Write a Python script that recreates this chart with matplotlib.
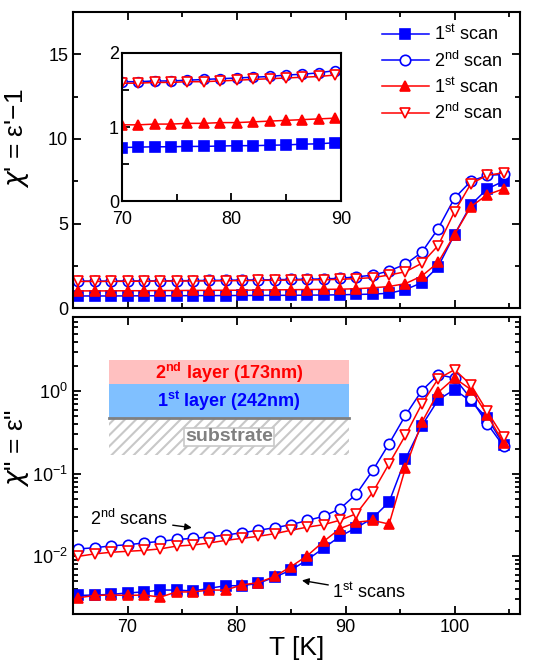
import matplotlib
matplotlib.use("Agg")
import matplotlib.pyplot as plt
from matplotlib.patches import Rectangle
from matplotlib.ticker import MultipleLocator, LogLocator, NullFormatter
import numpy as np

plt.rcParams["font.family"] = ["Liberation Sans", "DejaVu Sans"]
plt.rcParams["mathtext.fontset"] = "custom"
plt.rcParams["mathtext.rm"] = "Liberation Sans"
plt.rcParams["mathtext.it"] = "DejaVu Sans:italic"
plt.rcParams["mathtext.bf"] = "Liberation Sans:bold"
plt.rcParams["hatch.linewidth"] = 1.5
plt.rcParams["hatch.color"] = "#c8c8c8"

# temperatures [K], 1.5 K steps
T = np.array([65.5, 67, 68.5, 70, 71.5, 73, 74.5, 76, 77.5, 79, 80.5, 82, 83.5,
              85, 86.5, 88, 89.5, 91, 92.5, 94, 95.5, 97, 98.5, 100, 101.5,
              103, 104.5])

# real part chi' = eps' - 1
re_blue_1st = [0.72, 0.72, 0.72, 0.725, 0.73, 0.735, 0.735, 0.74, 0.74, 0.745,
               0.75, 0.75, 0.755, 0.76, 0.77, 0.775, 0.79, 0.81, 0.83, 0.88,
               1.1, 1.5, 2.45, 4.35, 6.1, 7.05, 7.5]
re_blue_2nd = [1.6, 1.6, 1.6, 1.61, 1.61, 1.62, 1.62, 1.63, 1.64, 1.65, 1.66,
               1.67, 1.68, 1.7, 1.71, 1.73, 1.76, 1.85, 1.95, 2.2, 2.6, 3.3,
               4.7, 6.5, 7.5, 7.85, 7.9]
re_red_1st = [1.02, 1.02, 1.02, 1.03, 1.03, 1.04, 1.04, 1.05, 1.05, 1.06,
              1.06, 1.07, 1.08, 1.09, 1.10, 1.11, 1.12, 1.15, 1.2, 1.28, 1.45,
              1.9, 2.7, 4.35, 6.0, 6.7, 7.05]
re_red_2nd = [1.58, 1.58, 1.58, 1.59, 1.59, 1.6, 1.6, 1.61, 1.61, 1.62, 1.63,
              1.64, 1.65, 1.66, 1.67, 1.68, 1.7, 1.75, 1.8, 1.96, 2.15, 2.65,
              3.7, 5.7, 7.35, 7.85, 8.0]

# imaginary part chi'' = eps''
im_blue_1st = [0.00335, 0.0034, 0.00345, 0.0036, 0.0037, 0.0039, 0.0039,
               0.0038, 0.0041, 0.0044, 0.0044, 0.0047, 0.0056, 0.0068, 0.0091,
               0.0126, 0.0175, 0.0222, 0.0291, 0.0456, 0.151, 0.383, 0.79,
               1.05, 0.757, 0.475, 0.226]
im_blue_2nd = [0.0123, 0.0127, 0.0134, 0.0138, 0.0145, 0.0152, 0.016, 0.0165,
               0.0172, 0.0181, 0.0193, 0.0207, 0.0222, 0.0242, 0.0272, 0.0306,
               0.0378, 0.057, 0.11, 0.232, 0.512, 1.02, 1.59, 1.45, 0.815,
               0.406, 0.216]
im_red_1st = [0.00315, 0.00335, 0.0034, 0.00335, 0.0034, 0.0032, 0.0037,
              0.0037, 0.0039, 0.0039, 0.0045, 0.0048, 0.0057, 0.0075, 0.0102,
              0.0152, 0.0217, 0.0259, 0.0272, 0.0246, 0.118, 0.42, 0.97, 1.45,
              1.05, 0.52, 0.236]
im_red_2nd = [0.01, 0.0107, 0.0112, 0.0115, 0.0118, 0.0123, 0.0133, 0.0137,
              0.0145, 0.0156, 0.0165, 0.0175, 0.0188, 0.0207, 0.0226, 0.0242,
              0.0274, 0.0329, 0.0597, 0.133, 0.293, 0.702, 1.42, 1.83, 1.2,
              0.572, 0.277]

BLUE = "#0000ff"
RED = "#ff0000"
styles = [
    dict(color=BLUE, marker="s", mfc=BLUE, mec=BLUE),
    dict(color=BLUE, marker="o", mfc="white", mec=BLUE),
    dict(color=RED, marker="^", mfc=RED, mec=RED),
    dict(color=RED, marker="v", mfc="white", mec=RED),
]
labels = [r"1$^{\mathrm{st}}$ scan", r"2$^{\mathrm{nd}}$ scan",
          r"1$^{\mathrm{st}}$ scan", r"2$^{\mathrm{nd}}$ scan"]


def style_axis(ax):
    for s in ax.spines.values():
        s.set_linewidth(1.5)
    ax.tick_params(which="both", direction="in", top=True, right=True,
                   width=1.3, labelsize=13)
    ax.tick_params(which="major", length=6)
    ax.tick_params(which="minor", length=3.5)


fig = plt.figure(figsize=(5.41, 6.67), dpi=100)
ax1 = fig.add_axes([0.135, 0.538, 0.826, 0.444])
ax2 = fig.add_axes([0.135, 0.0795, 0.826, 0.4455], sharex=ax1)

# upper panel
for y, st, lb in zip([re_blue_1st, re_blue_2nd, re_red_1st, re_red_2nd],
                     styles, labels):
    ax1.plot(T, y, lw=1.1, ms=7.5, mew=1.2, label=lb, **st)
ax1.set_xlim(65, 106)
ax1.set_ylim(0, 17.5)
ax1.yaxis.set_major_locator(MultipleLocator(5))
ax1.yaxis.set_minor_locator(MultipleLocator(2.5))
ax1.xaxis.set_major_locator(MultipleLocator(10))
ax1.xaxis.set_minor_locator(MultipleLocator(5))
style_axis(ax1)
ax1.tick_params(labelbottom=False)
ax1.set_ylabel(r"$\chi$' = ε'−1", fontsize=19)
ax1.yaxis.set_label_coords(-0.095, 0.575)
ax1.legend(loc="upper right", frameon=False, fontsize=13, handlelength=2.6,
           handletextpad=0.3, labelspacing=0.35, borderaxespad=0.3,
           bbox_to_anchor=(0.99, 1.0))

# inset 70-90 K
axi = fig.add_axes([0.225, 0.698, 0.405, 0.223])
m = T <= 90
for y, st in zip([re_blue_1st, re_blue_2nd, re_red_1st, re_red_2nd], styles):
    axi.plot(T[m], np.array(y)[m], lw=1.1, ms=7, mew=1.2, **st)
axi.set_xlim(70, 90)
axi.set_ylim(0, 2)
axi.xaxis.set_major_locator(MultipleLocator(10))
axi.xaxis.set_minor_locator(MultipleLocator(5))
axi.yaxis.set_major_locator(MultipleLocator(1))
axi.yaxis.set_minor_locator(MultipleLocator(0.5))
style_axis(axi)
axi.tick_params(top=False, right=False, which="both")
axi.tick_params(axis="y", pad=2)
axi.tick_params(axis="x", pad=7)
axi.tick_params(which="minor", length=5)

# lower panel
for y, st in zip([im_blue_1st, im_blue_2nd, im_red_1st, im_red_2nd], styles):
    ax2.plot(T, y, lw=1.1, ms=7.5, mew=1.2, **st)
ax2.set_yscale("log")
ax2.set_ylim(0.002, 8)
ax2.yaxis.set_major_locator(LogLocator(base=10, numticks=10))
ax2.yaxis.set_minor_locator(LogLocator(base=10, subs=np.arange(2, 10),
                                       numticks=10))
ax2.yaxis.set_minor_formatter(NullFormatter())
style_axis(ax2)
ax2.set_ylabel(r'$\chi$" = ε"', fontsize=19)
ax2.yaxis.set_label_coords(-0.095, 0.56)
ax2.set_xlabel("T [K]", fontsize=19, labelpad=0)

# layer schematic
x0, x1 = 68.3, 90.3
ax2.add_patch(Rectangle((x0, 1.24), x1 - x0, 2.42 - 1.24, fc="#ffc0c0",
                        ec="none", zorder=1))
ax2.add_patch(Rectangle((x0, 0.475), x1 - x0, 1.24 - 0.475, fc="#80c0ff",
                        ec="none", zorder=1))
ax2.add_patch(Rectangle((x0, 0.17), x1 - x0, 0.475 - 0.17, fc="white",
                        ec="#c8c8c8", lw=0, hatch="///", zorder=1))
ax2.plot([x0, x1], [0.475, 0.475], color="#808080", lw=2, zorder=1.5)
xm = (x0 + x1) / 2
ax2.text(xm, 1.68, r"2$^{\mathbf{nd}}$ layer (173nm)", color=RED,
         fontsize=13, fontweight="bold", ha="center", va="center")
ax2.text(xm, 0.76, r"1$^{\mathbf{st}}$ layer (242nm)", color=BLUE,
         fontsize=13, fontweight="bold", ha="center", va="center")
ax2.text(xm, 0.28, "substrate", color="#808080", fontsize=14,
         fontweight="bold", ha="center", va="center",
         bbox=dict(fc="white", ec="#c8c8c8", lw=1.2, pad=0.5))

ax2.annotate(r"2$^{\mathrm{nd}}$ scans", xy=(75.9, 0.0222),
             xytext=(66.6, 0.028), fontsize=13, ha="left", va="center",
             arrowprops=dict(arrowstyle="-|>", color="black", lw=1,
                             shrinkA=1, shrinkB=0, mutation_scale=10))
ax2.annotate(r"1$^{\mathrm{st}}$ scans", xy=(86.0, 0.0051),
             xytext=(88.8, 0.0037), fontsize=13, ha="left", va="center",
             arrowprops=dict(arrowstyle="-|>", color="black", lw=1,
                             shrinkA=1, shrinkB=0, mutation_scale=10))

fig.savefig("out.png", dpi=100)
